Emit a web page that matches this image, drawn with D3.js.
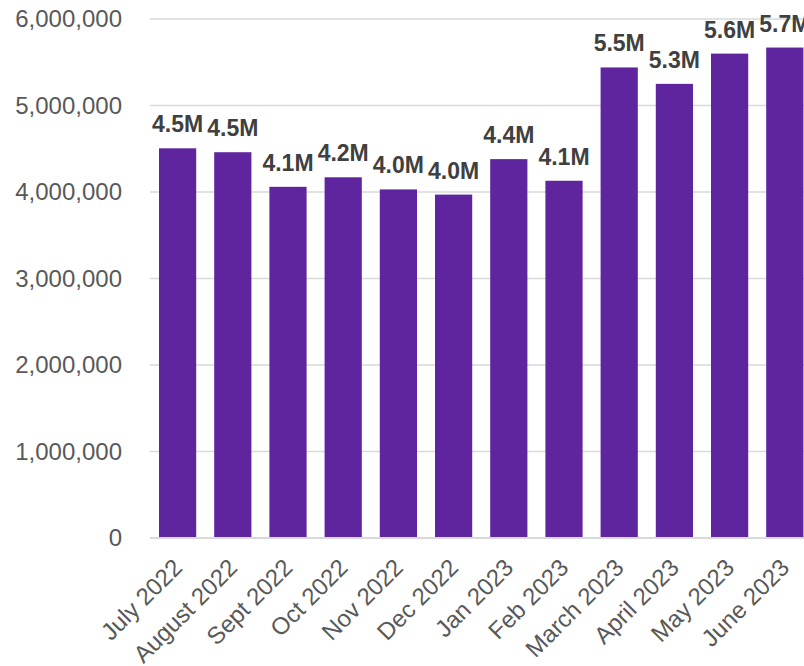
<!DOCTYPE html>
<html>
<head>
<meta charset="utf-8">
<script src="https://cdn.jsdelivr.net/npm/d3@7"></script>
<style>
  body { margin: 0; background: #fff; }
  text { font-family: "Liberation Sans", Arial, sans-serif; }
</style>
</head>
<body>
<div id="chart"></div>
<script>
// month categories and values
let months = ["July 2022", "August 2022", "Sept 2022", "Oct 2022", "Nov 2022", "Dec 2022",
    "Jan 2023", "Feb 2023", "March 2023", "April 2023", "May 2023", "June 2023"];
let values = [4505000, 4460000, 4060000, 4170000, 4030000, 3970000,
    4380000, 4130000, 5440000, 5250000, 5600000, 5670000];
let labels = ["4.5M", "4.5M", "4.1M", "4.2M", "4.0M", "4.0M",
    "4.4M", "4.1M", "5.5M", "5.3M", "5.6M", "5.7M"];
let yTicks = [0, 1000000, 2000000, 3000000, 4000000, 5000000, 6000000];

let svgWidth = 804;
let svgHeight = 666;

let svg = d3.select("#chart")
    .append("svg")
    .attr("width", svgWidth)
    .attr("height", svgHeight);

let x = d3.scaleBand()
    .domain(months)
    .range([150, 812.4])
    .paddingInner(0.326)
    .paddingOuter(0.163);

let y = d3.scaleLinear()
    .domain([0, 6000000])
    .range([538, 19]);

// gridlines
svg.append("g")
    .selectAll("line")
    .data(yTicks)
    .enter()
    .append("line")
    .attr("x1", 150)
    .attr("x2", svgWidth)
    .attr("y1", d => y(d))
    .attr("y2", d => y(d))
    .attr("stroke", "#d9d9d9")
    .attr("stroke-width", 1.5);

// y axis labels
let yAxis = svg.append("g")
    .attr("transform", "translate(122,0)")
    .call(d3.axisLeft(y).tickValues(yTicks).tickFormat(d3.format(",")).tickSize(0).tickPadding(0));
yAxis.select(".domain").remove();
yAxis.selectAll("text")
    .attr("fill", "#595959")
    .style("font-size", "24px");

// bars
svg.append("g")
    .selectAll("rect")
    .data(values)
    .enter()
    .append("rect")
    .attr("x", (d, i) => x(months[i]))
    .attr("y", d => y(d))
    .attr("width", x.bandwidth())
    .attr("height", d => y(0) - y(d))
    .attr("fill", "#5f259f");

// baseline
svg.append("line")
    .attr("x1", 150)
    .attr("x2", svgWidth)
    .attr("y1", y(0))
    .attr("y2", y(0))
    .attr("stroke", "#d9d9d9")
    .attr("stroke-width", 2);

// value labels
svg.append("g")
    .selectAll("text")
    .data(values)
    .enter()
    .append("text")
    .attr("x", (d, i) => x(months[i]) + x.bandwidth() / 2)
    .attr("y", d => y(d) - 16)
    .attr("text-anchor", "middle")
    .attr("fill", "#404040")
    .style("font-size", "23px")
    .style("font-weight", "bold")
    .text((d, i) => labels[i]);

// x axis labels, rotated
let xAxis = svg.append("g")
    .attr("transform", `translate(0,${y(0)})`)
    .call(d3.axisBottom(x).tickSize(0).tickPadding(0));
xAxis.select(".domain").remove();
xAxis.selectAll("text")
    .attr("fill", "#595959")
    .style("font-size", "24px")
    .attr("text-anchor", "end")
    .attr("dy", null)
    .attr("y", 0)
    .attr("transform", "translate(6,31) rotate(-45)");
</script>
</body>
</html>
